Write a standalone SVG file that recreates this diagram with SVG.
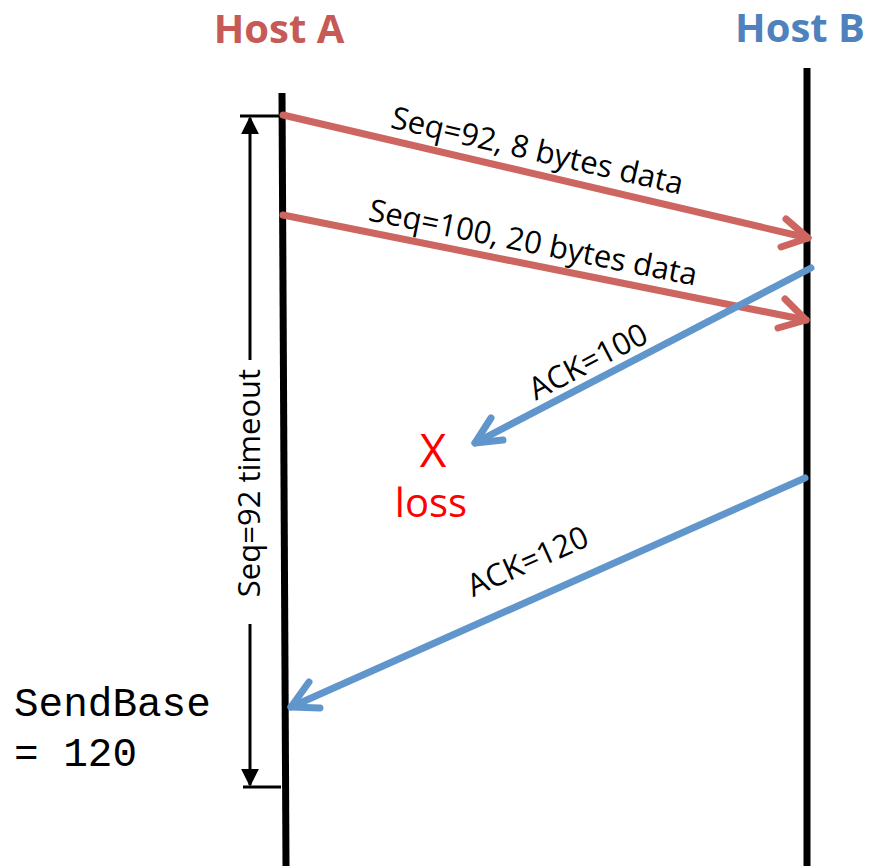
<svg xmlns="http://www.w3.org/2000/svg" width="874" height="866" viewBox="0 0 874 866">
  <defs>
    <style>
      .host { font-family: "Open Sans", "Noto Sans", sans-serif; font-weight: bold; font-size: 40px; text-anchor: middle; }
      .lbl { font-family: "Open Sans", "Noto Sans", sans-serif; font-size: 31px; fill: #000; text-anchor: middle; }
      .mono { font-family: "Liberation Mono", "Courier New", monospace; font-size: 41px; fill: #000; }
      .warn { font-family: "Open Sans", "Noto Sans", sans-serif; fill: #F00; text-anchor: middle; }
      .life { stroke: #000; stroke-width: 7; fill: none; }
      .red { stroke: #CD6660; stroke-width: 7; fill: none; stroke-linecap: round; stroke-linejoin: round; }
      .blue { stroke: #6196CC; stroke-width: 7; fill: none; stroke-linecap: round; stroke-linejoin: round; }
      .thin { stroke: #000; stroke-width: 3; fill: none; }
    </style>
    <marker id="tip" viewBox="0 0 10 10" refX="9" refY="5" markerWidth="6" markerHeight="6" orient="auto-start-reverse" markerUnits="strokeWidth">
      <path d="M0,0 L10,5 L0,10 Z" fill="#000"/>
    </marker>
  </defs>
  <rect width="874" height="866" fill="#fff"/>

  <g id="hostA">
    <text class="host" x="279" y="43" fill="#C55A56">Host A</text>
    <line class="life" x1="282" y1="93" x2="286" y2="866"/>
  </g>
  <g id="hostB">
    <text class="host" x="800" y="42" fill="#4F81BD" font-size="39">Host B</text>
    <line class="life" x1="807" y1="68" x2="807" y2="866"/>
  </g>

  <g id="timeout">
    <line class="thin" x1="240" y1="116" x2="281" y2="116"/>
    <line class="thin" x1="243" y1="787" x2="281" y2="787"/>
    <line class="thin" x1="250" y1="360" x2="250" y2="118" marker-end="url(#tip)"/>
    <line class="thin" x1="250" y1="624" x2="250" y2="785" marker-end="url(#tip)"/>
    <text class="lbl" transform="translate(260,483) rotate(-90)">Seq=92 timeout</text>
  </g>

  <g id="connectors">
    <line class="red" x1="283" y1="115" x2="808" y2="238"/>
    <polyline class="red" points="786,219 808,238 781,247"/>
    <line class="red" x1="283" y1="215" x2="806" y2="320"/>
    <polyline class="red" points="785,299 806,320 778,328"/>
    <line class="blue" x1="811" y1="268" x2="475" y2="443"/>
    <polyline class="blue" points="491,418 475,443 503,440"/>
    <line class="blue" x1="805" y1="478" x2="291" y2="707"/>
    <polyline class="blue" points="309,682 291,707 320,708"/>
  </g>

  <g id="labels">
    <text class="lbl" transform="translate(535,161) rotate(13)">Seq=92, 8 bytes data</text>
    <text class="lbl" transform="translate(531,253) rotate(11.3)">Seq=100, 20 bytes data</text>
    <text class="lbl" transform="translate(593,371) rotate(-27.5)">ACK=100</text>
    <text class="lbl" transform="translate(532,571) rotate(-24)">ACK=120</text>
  </g>

  <g id="loss">
    <text class="warn" x="433" y="467" font-size="46">X</text>
    <text class="warn" x="431" y="517" font-size="40">loss</text>
  </g>

  <g id="sendbase">
    <text class="mono" x="14" y="716">SendBase</text>
    <text class="mono" x="14" y="766">= 120</text>
  </g>
</svg>
